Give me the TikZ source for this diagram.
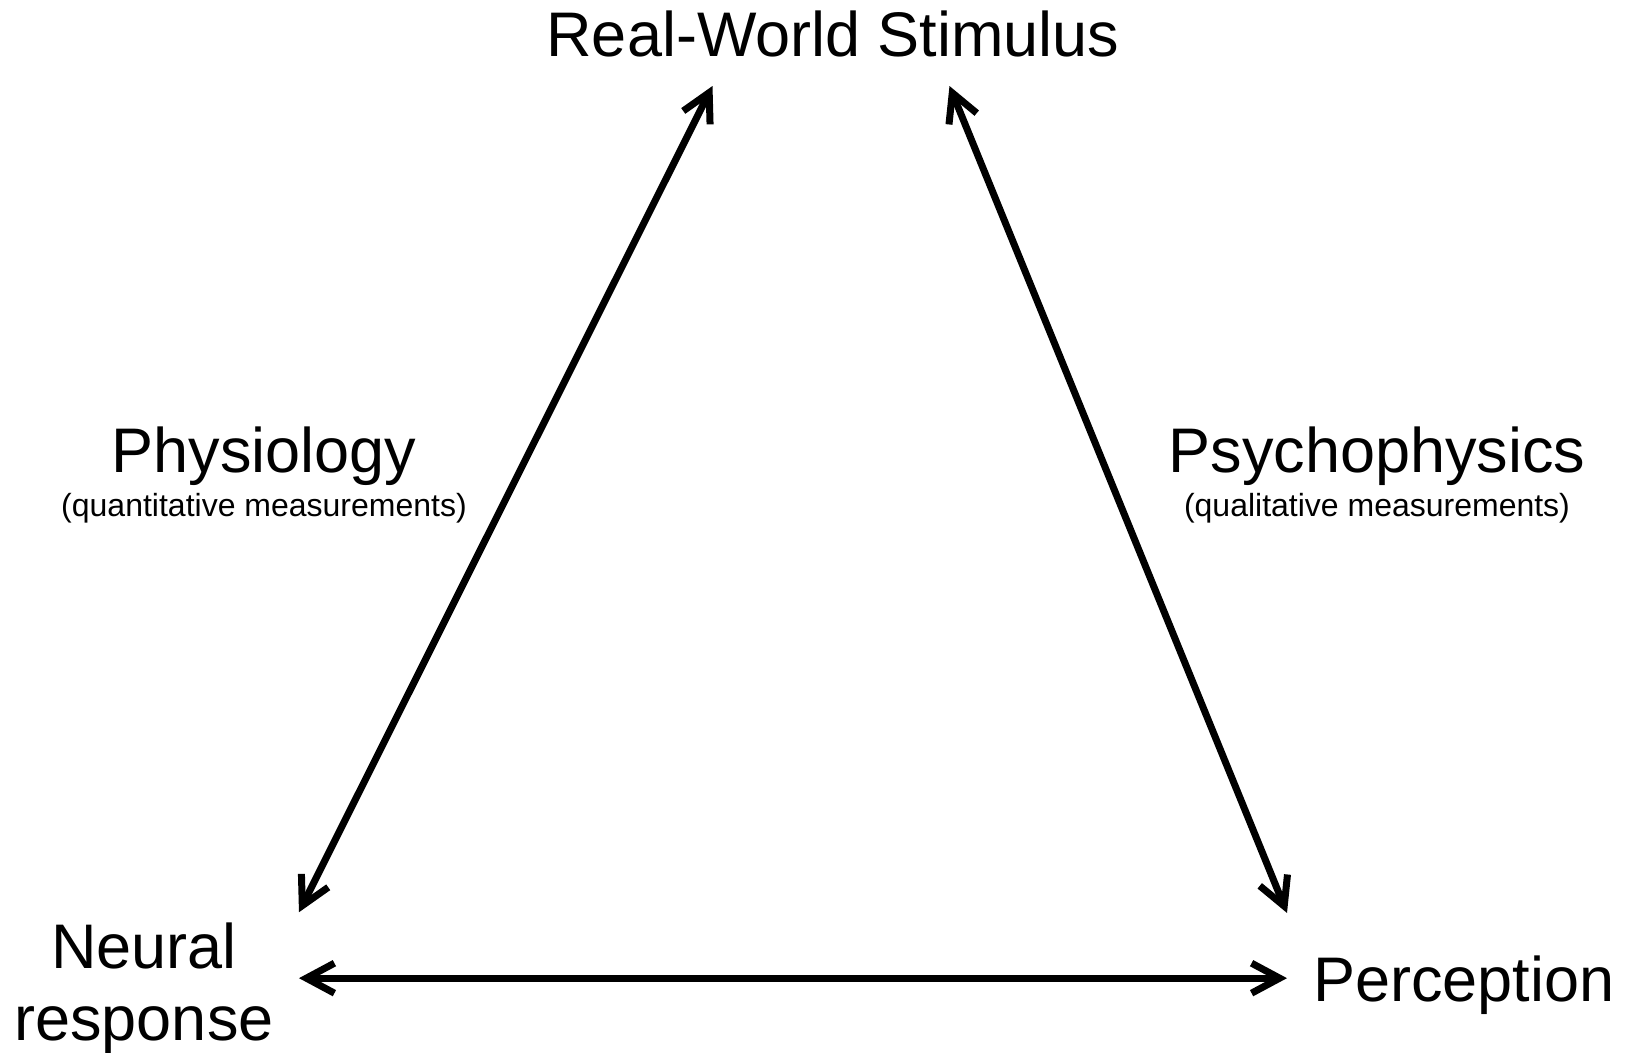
\documentclass[tikz,border=0pt]{standalone}
\usepackage{fontspec}
\setmainfont{Liberation Sans}
\usetikzlibrary{arrows.meta,calc}
\definecolor{ink}{HTML}{000000}
\tikzset{
  >={Straight Barb[length=14pt,width=15pt]},
  every node/.style={text=ink,inner sep=0pt},
  term/.style={font=\fontsize{31.5}{36}\selectfont},
  subnote/.style={font=\fontsize{16}{19}\selectfont},
  link/.style={<->,line width=3.5pt,line cap=round,draw=ink},
}

\begin{document}
\begin{tikzpicture}[x=0.5pt,y=-0.5pt]
  \useasboundingbox (0,0) rectangle (1630,1053);

  % corners of the triangle
  \node[term,anchor=base,inner ysep=14pt] (stimulus) at (833,57) {Real-World Stimulus};
  \node[term,align=center,inner xsep=12.5pt,inner ysep=5pt] (neural) at (144,988) {Neural\\response};
  \node[term,anchor=base west,text depth=0pt,inner xsep=13pt] (perception) at (1287,1001) {Perception};

  % side labels
  \node[term,anchor=base] (physio) at (264,473) {Physiology};
  \node[subnote,anchor=base] (physioSub) at (264,517) {(quantitative measurements)};
  \node[term,anchor=base] (psycho) at (1377,473) {Psychophysics};
  \node[subnote,anchor=base] (psychoSub) at (1377,517) {(qualitative measurements)};

  \draw[link] (neural.north east) -- ($(stimulus.south west)!0.29!(stimulus.south east)$);
  \draw[link] ($(stimulus.south west)!0.703!(stimulus.south east)$) -- ([yshift=21pt]perception.north west);
  \draw[link] (neural.east |- perception.west) -- (perception.west);
\end{tikzpicture}
\end{document}
